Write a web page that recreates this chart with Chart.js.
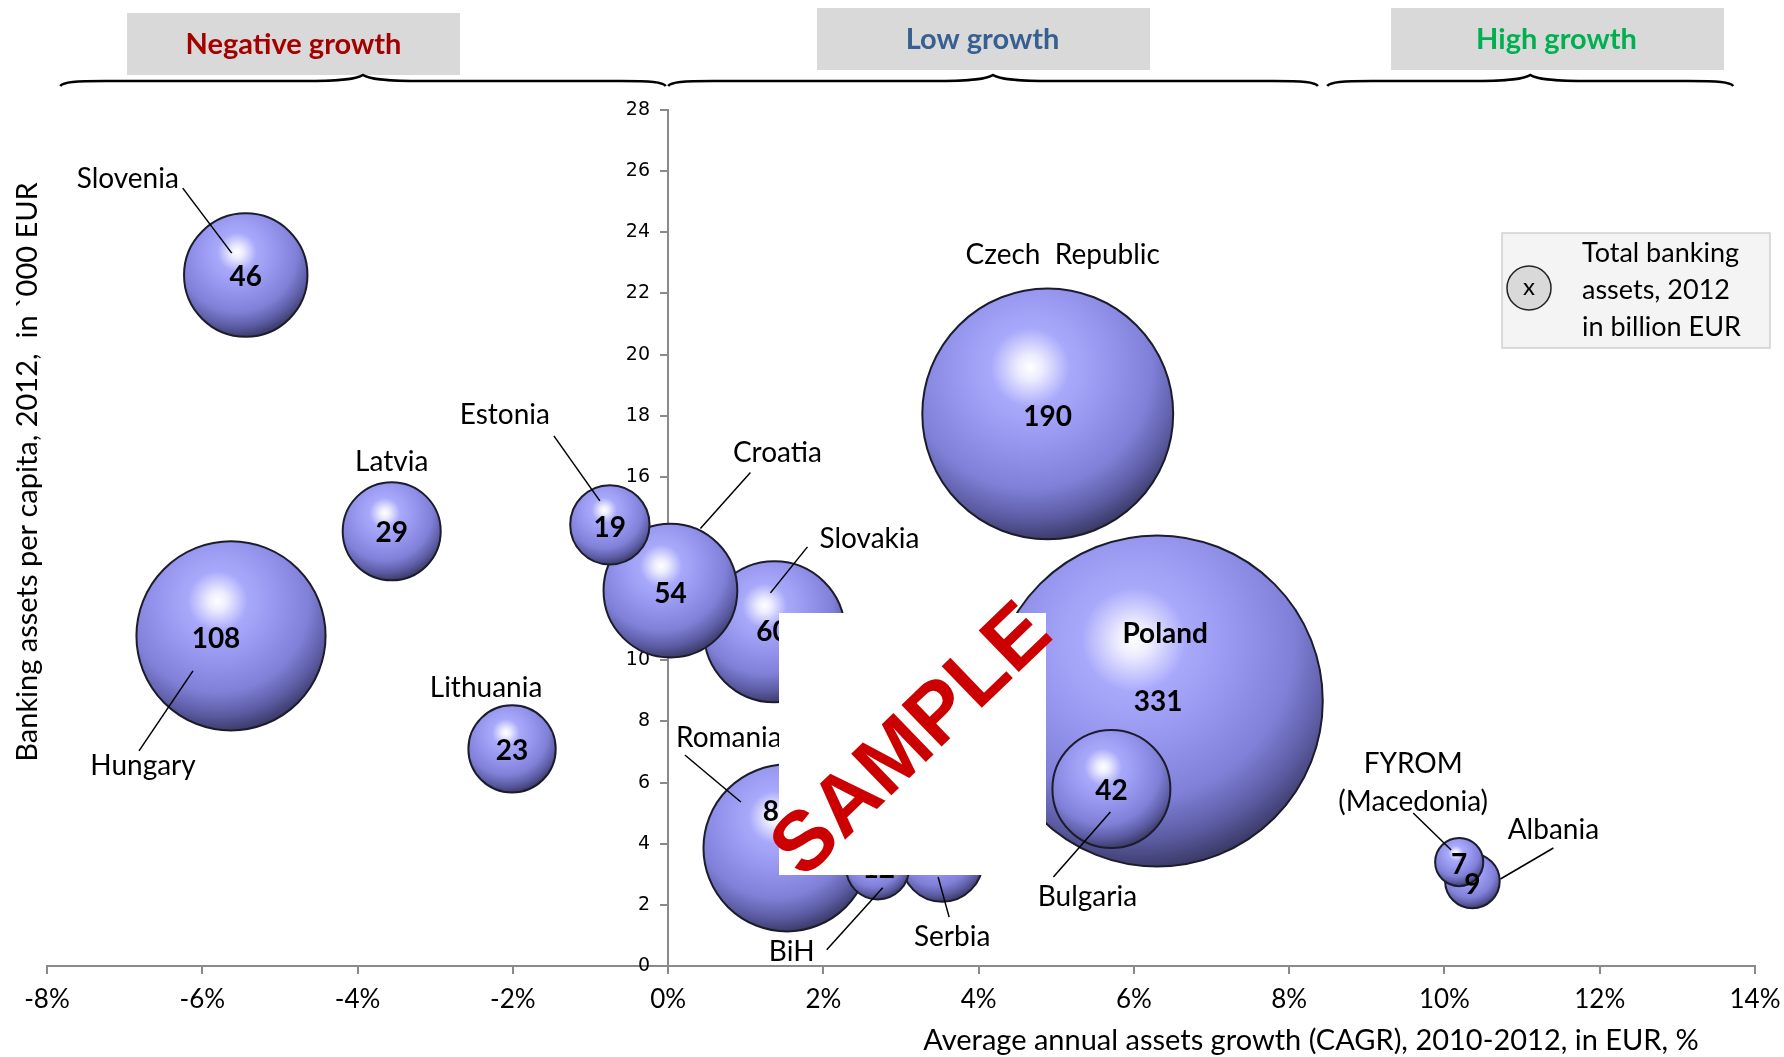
<!DOCTYPE html>
<html>
<head>
<meta charset="utf-8">
<title>Banking assets per capita vs growth</title>
<script src="https://cdn.jsdelivr.net/npm/chart.js@4.4.0/dist/chart.umd.min.js"></script>
<style>
  html, body { margin: 0; padding: 0; background: #fff; }
  #wrap { width: 1784px; height: 1057px; }
</style>
</head>
<body>
<div id="wrap"><canvas id="bubbles" width="1784" height="1057"></canvas></div>
<script>
// data
const countries = ['Slovenia', 'Latvia', 'Estonia', 'Hungary', 'Lithuania', 'Croatia', 'Slovakia',
  'Romania', 'BiH', 'Serbia', 'Czech  Republic', 'Poland', 'Bulgaria', 'FYROM\n(Macedonia)', 'Albania'];
const assetGrowth = [-5.44, -3.56, -0.75, -5.63, -2.01, 0.03, 1.37, 1.53, 2.70, 3.53, 4.89, 6.30, 5.71, 10.19, 10.36];
const assetsPerCapita = [22.6, 14.22, 14.43, 10.8, 7.1, 12.28, 10.93, 3.86, 3.21, 3.43, 18.06, 8.67, 5.79, 3.40, 2.78];
const totalAssets = [46, 29, 19, 108, 23, 54, 60, 84, 12, 20, 190, 331, 42, 7, 9];

const groupNames = ['Negative growth', 'Low growth', 'High growth'];
const groupFrom = [-7.83, 0, 8.49];
const groupTo = [-0.03, 8.37, 13.72];

const legendLines = ['Total banking', 'assets, 2012', 'in billion EUR'];
const xTitle = 'Average annual assets growth (CAGR), 2010-2012, in EUR, %';
const yTitle = 'Banking assets per capita, 2012,  in `000 EUR';

// layout / style
const sizeK = 9.1;   // px radius per sqrt(bn EUR)
const baseFont = 'Lato, "Open Sans", sans-serif';
const groupBoxes = [
  { x0: 127, y0: 13, x1: 460, y1: 75, color: '#a50000' },
  { x0: 817, y0: 8, x1: 1150, y1: 70, color: '#376092' },
  { x0: 1391, y0: 8, x1: 1724, y1: 70, color: '#00b050' }
];
// label offsets from the bubble centre (px)
const labelLayout = [
  { name: [-118, -96], line: [-63, -87, -14, -22], num: [0, 2] },
  { name: [0, -69], num: [0, 2] },
  { name: [-105, -110], line: [-56, -89, -10, -24], num: [0, 3] },
  { name: [-88, 130], line: [-92, 115, -38, 35], num: [-15, 3] },
  { name: [-26, -61], num: [0, 2] },
  { name: [107, -138], line: [80, -118, 30, -62], num: [0, 3] },
  { name: [95, -93], line: [33, -85, -4, -39], num: [-2, 0] },
  { name: [-58, -110], line: [-102, -93, -46, -46], num: [-8, -36] },
  { name: [-86, 84], line: [-51, 82, 5, 20], num: [1, 1] },
  { name: [10, 76], line: [-4, 16, 7, 56], num: [0, -25] },
  { name: [15, -159], num: [0, 3] },
  { name: [8, -67], bold: true, num: [1, 1] },
  { name: [-24, 108], line: [-1, 23, -58, 88], num: [0, 2] },
  { name: [-46, -98], line: [-46, -49, -8, -12], num: [0, 3] },
  { name: [81, -51], line: [81, -33, 28, -2], num: [0, 4] }
];

// big bubbles first so the small ones sit on top
const order = totalAssets.map((v, i) => i).sort((a, b) => totalAssets[b] - totalAssets[a]);
const points = order.map(i => ({ x: assetGrowth[i], y: assetsPerCapita[i], r: sizeK * Math.sqrt(totalAssets[i]) }));

function bubbleFill(ctx) {
  const raw = ctx.raw;
  const chart = ctx.chart;
  if (!raw || !chart.scales.x) return '#9090e8';
  const cx = chart.scales.x.getPixelForValue(raw.x);
  const cy = chart.scales.y.getPixelForValue(raw.y);
  const r = raw.r;
  if (!isFinite(cx) || !isFinite(cy) || !(r > 0)) return '#9090e8';
  const hx = cx - 0.14 * r, hy = cy - 0.37 * r;
  const g = chart.ctx.createRadialGradient(hx, hy, 0, hx, hy, 1.42 * r);
  g.addColorStop(0, '#ffffff');
  g.addColorStop(0.07, '#ececff');
  g.addColorStop(0.22, '#a9a9fb');
  g.addColorStop(0.45, '#9595ee');
  g.addColorStop(0.68, '#8080d8');
  g.addColorStop(0.85, '#5c5ca4');
  g.addColorStop(1, '#34345c');
  return g;
}

function brace(c, x0, x1, y) {
  const xm = (x0 + x1) / 2;
  c.beginPath();
  c.moveTo(x0, y + 4);
  c.bezierCurveTo(x0 + 3, y, x0 + 15, y - 1, x0 + 45, y - 1);
  c.lineTo(xm - 60, y - 1);
  c.bezierCurveTo(xm - 20, y - 1, xm - 6, y - 3, xm, y - 7);
  c.bezierCurveTo(xm + 6, y - 3, xm + 20, y - 1, xm + 60, y - 1);
  c.lineTo(x1 - 45, y - 1);
  c.bezierCurveTo(x1 - 15, y - 1, x1 - 3, y, x1, y + 4);
  c.stroke();
}

const annotations = {
  id: 'annotations',
  afterDatasetsDraw(chart) {
    const c = chart.ctx, xs = chart.scales.x, ys = chart.scales.y;
    c.save();
    c.strokeStyle = '#000';
    c.lineWidth = 1.5;
    c.fillStyle = '#000';
    c.textAlign = 'center';
    c.textBaseline = 'middle';
    countries.forEach((name, i) => {
      const cx = xs.getPixelForValue(assetGrowth[i]);
      const cy = ys.getPixelForValue(assetsPerCapita[i]);
      const lay = labelLayout[i];
      if (lay.line) {
        c.beginPath();
        c.moveTo(cx + lay.line[0], cy + lay.line[1]);
        c.lineTo(cx + lay.line[2], cy + lay.line[3]);
        c.stroke();
      }
      c.font = (lay.bold ? 'bold ' : '') + '28px ' + baseFont;
      name.split('\n').forEach((ln, k) => {
        c.fillText(ln, cx + lay.name[0], cy + lay.name[1] + k * 38);
      });
      c.font = 'bold 28px ' + baseFont;
      c.fillText(String(totalAssets[i]), cx + lay.num[0], cy + lay.num[1]);
    });
    c.restore();
  },
  afterDraw(chart) {
    const c = chart.ctx, xs = chart.scales.x;
    c.save();
    // growth group headers and braces
    groupNames.forEach((g, i) => {
      const b = groupBoxes[i];
      c.fillStyle = '#d9d9d9';
      c.fillRect(b.x0, b.y0, b.x1 - b.x0, b.y1 - b.y0);
      c.fillStyle = b.color;
      c.font = 'bold 29px ' + baseFont;
      c.textAlign = 'center';
      c.textBaseline = 'middle';
      c.fillText(g, (b.x0 + b.x1) / 2 + (i === 0 ? 0 : -1), (b.y0 + b.y1) / 2 + 1);
      c.strokeStyle = '#000';
      c.lineWidth = 2.5;
      brace(c, xs.getPixelForValue(groupFrom[i]), xs.getPixelForValue(groupTo[i]), 82);
    });

    // size legend
    c.fillStyle = '#f4f4f4';
    c.strokeStyle = '#cfcfcf';
    c.lineWidth = 1.5;
    c.fillRect(1502, 233, 268, 115);
    c.strokeRect(1502, 233, 268, 115);
    c.beginPath();
    c.arc(1529, 288, 22, 0, Math.PI * 2);
    c.fillStyle = '#d9d9d9';
    c.fill();
    c.strokeStyle = '#222';
    c.lineWidth = 1.5;
    c.stroke();
    c.fillStyle = '#000';
    c.font = '24px ' + baseFont;
    c.textAlign = 'center';
    c.textBaseline = 'middle';
    c.fillText('x', 1529, 287);
    c.font = '27px ' + baseFont;
    c.textAlign = 'left';
    legendLines.forEach((t, k) => c.fillText(t, 1582, 253 + k * 37));

    // axis titles
    c.font = '29px ' + baseFont;
    c.textAlign = 'center';
    c.fillText(xTitle, 1311, 1041);
    c.save();
    c.translate(28, 472);
    c.rotate(-Math.PI / 2);
    c.font = '29px ' + baseFont;
    c.fillText(yTitle, 0, 0);
    c.restore();

    // watermark
    c.fillStyle = '#fff';
    c.fillRect(779, 613, 267, 262);
    c.save();
    c.translate(913, 742);
    c.rotate(-44 * Math.PI / 180);
    c.fillStyle = '#cc0000';
    c.font = 'bold 84px "Liberation Sans", Arial, sans-serif';
    c.textAlign = 'center';
    c.textBaseline = 'middle';
    c.fillText('SAMPLE', 0, 0);
    c.restore();
    c.restore();
  }
};

new Chart(document.getElementById('bubbles'), {
  type: 'bubble',
  data: {
    datasets: [{
      data: points,
      backgroundColor: bubbleFill,
      borderColor: '#1c1c2c',
      borderWidth: 2,
      clip: false
    }]
  },
  options: {
    responsive: false,
    animation: false,
    events: [],
    layout: { autoPadding: false, padding: { left: 47, right: 29, top: 110, bottom: 0 } },
    plugins: { legend: { display: false }, tooltip: { enabled: false } },
    scales: {
      x: {
        type: 'linear', position: 'bottom', min: -8, max: 14,
        ticks: { stepSize: 2, maxRotation: 0, autoSkip: false, callback: v => v + '%',
          font: { family: baseFont, size: 26 }, color: '#000', padding: 10 },
        grid: { drawOnChartArea: false, tickLength: 8, color: '#8a8a8a', lineWidth: 2 },
        border: { color: '#8a8a8a', width: 2 },
        afterFit: s => { s.height = 91; s.paddingLeft = 0; s.paddingRight = 0; }
      },
      y: {
        type: 'linear', position: { x: 0 }, min: 0, max: 28,
        // trailing spaces keep the labels clear of the tick marks
        ticks: { stepSize: 2, callback: v => v + '   ',
          font: { family: 'DejaVu Sans', size: 19 }, color: '#000', padding: 6 },
        grid: { drawOnChartArea: false, tickLength: 7, color: '#8a8a8a', lineWidth: 2 },
        border: { color: '#8a8a8a', width: 2 }
      }
    }
  },
  plugins: [annotations]
});
</script>
</body>
</html>
